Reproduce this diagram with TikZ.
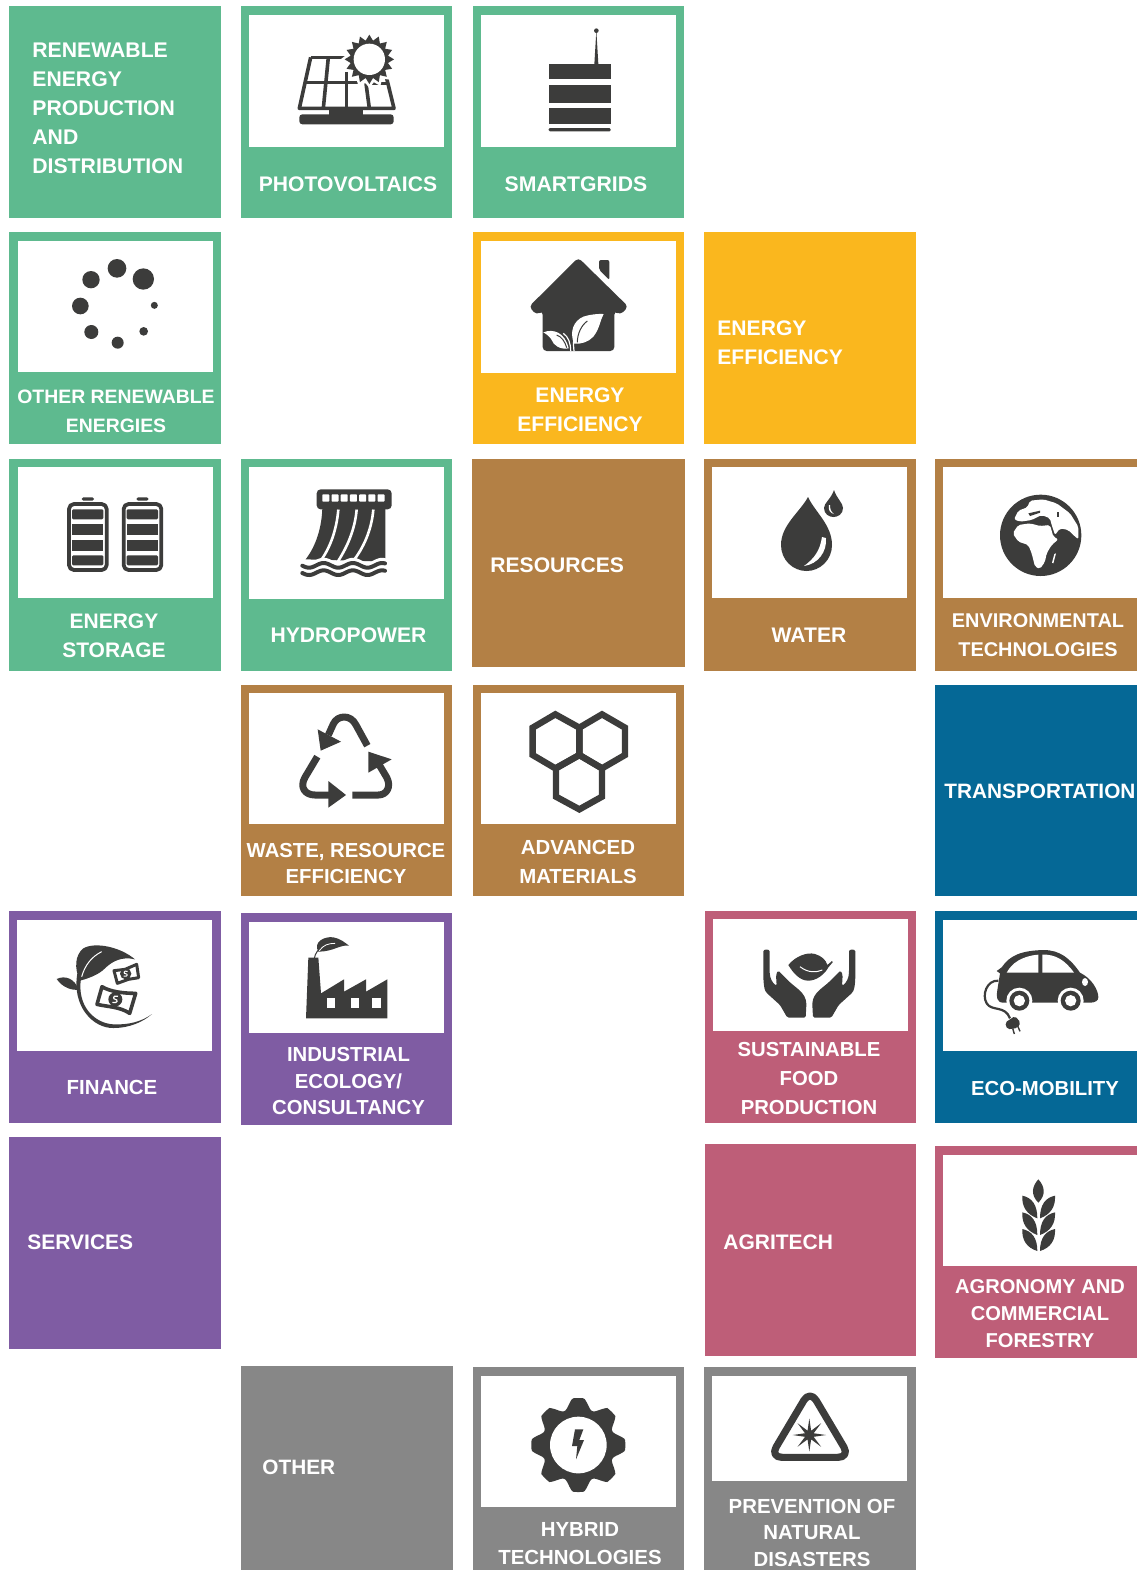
\documentclass[tikz,border=0pt]{standalone}
\usepackage{fontspec}
\setmainfont{Liberation Sans}
\definecolor{tgreen}{HTML}{5EBA8F}
\definecolor{tyellow}{HTML}{FAB71E}
\definecolor{tbrown}{HTML}{B38045}
\definecolor{tblue}{HTML}{056896}
\definecolor{tpurple}{HTML}{7F5CA3}
\definecolor{tpink}{HTML}{BE5E78}
\definecolor{tgray}{HTML}{878787}
\definecolor{idark}{HTML}{3C3C3B}
\tikzset{
  labc/.style 2 args={inner sep=0pt,text=white,align=center,font=\fontsize{#2pt}{#1pt}\selectfont\bfseries},
  labl/.style 2 args={inner sep=0pt,text=white,align=left,anchor=west,font=\fontsize{#2pt}{#1pt}\selectfont\bfseries},
  zc/.style 2 args={shift={(#1,#2)},x=0.166667pt,y=-0.166667pt},
  ik/.style={fill=idark},
  il/.style={draw=idark,line width=#1pt,line join=round},
  wf/.style={fill=white},
}
\newcommand\tile[5]{\fill[#1] (#2,#3) rectangle (#4,#5);}
\newcommand\panel[4]{\fill[white] (#1,#2) rectangle (#3,#4);}
\newcommand\burst[7]{\fill[#7] plot[samples at={0,...,#6},variable=\qq] ({#1+(mod(\qq,2)==0?#3:#4)*cos(\qq*360/#6+#5)},{#2+(mod(\qq,2)==0?#3:#4)*sin(\qq*360/#6+#5)}) -- cycle;}
\begin{document}
\begin{tikzpicture}[x=0.5pt,y=-0.5pt]
\useasboundingbox (0,0) rectangle (1137,1570);
\clip (0,0) rectangle (1137,1570);
% tiles
\tile{tgreen}{9}{6}{221}{218}
\tile{tgreen}{240.7}{6}{452.3}{218}\panel{249}{14.7}{444}{146.7}
\tile{tgreen}{472.5}{6}{684.3}{218}\panel{481}{14.7}{675.5}{146.7}
\tile{tgreen}{9}{232}{221}{444}\panel{18}{241}{213}{372}
\tile{tyellow}{472.5}{232}{684.3}{444}\panel{481}{241}{675.5}{373}
\tile{tyellow}{703.7}{232}{915.7}{444}
\tile{tgreen}{9}{459.3}{221}{671}\panel{18}{467}{213}{598.3}
\tile{tgreen}{240.7}{459.3}{452.3}{671}\panel{249}{467.3}{444}{599}
\tile{tbrown}{471.7}{458.7}{684.7}{667.3}
\tile{tbrown}{703.7}{459.3}{915.7}{671}\panel{712.3}{467}{907}{598.3}
\tile{tbrown}{934.5}{459.3}{1137}{671}\panel{943}{467}{1137}{598.3}
\tile{tbrown}{240.7}{684.7}{452.3}{896}\panel{249}{693}{444}{824.3}
\tile{tbrown}{472.5}{684.7}{684.3}{896}\panel{481}{693}{675.5}{824.3}
\tile{tblue}{934.5}{684.7}{1137}{896}
\tile{tpurple}{9}{911}{221}{1122.7}\panel{17.3}{920}{212}{1050.7}
\tile{tpurple}{240.7}{913}{452.3}{1125}\panel{249}{921.7}{444}{1032.7}
\tile{tpink}{704.5}{911}{916.3}{1122.7}\panel{713}{919.3}{908}{1030.7}
\tile{tblue}{934.7}{911}{1137}{1122.7}\panel{943}{920}{1137}{1051}
\tile{tpurple}{9}{1137}{221}{1349}
\tile{tpink}{704.5}{1144}{916.3}{1356}
\tile{tpink}{934.7}{1146}{1137}{1358}\panel{943}{1154.5}{1137}{1265.5}
\tile{tgray}{241}{1366}{452.7}{1570}
\tile{tgray}{472.5}{1367}{684.3}{1570}\panel{481}{1376}{676}{1507}
\tile{tgray}{704}{1367}{915.7}{1570}\panel{712.3}{1376}{907}{1481}
% labels
\node[labl={14.5}{10.6}] (lren) at (32,108) {RENEWABLE\\ENERGY\\PRODUCTION\\AND\\DISTRIBUTION};
\node[labc={14.5}{10.55}] (lpv) at (348,184) {PHOTOVOLTAICS};
\node[labc={14.5}{10.6}] (lsg) at (576,184) {SMARTGRIDS};
\node[labc={14.5}{9.7}] (lore) at (116,411) {OTHER RENEWABLE\\ENERGIES};
\node[labc={14.5}{10.55}] (lee) at (580,410) {ENERGY\\EFFICIENCY};
\node[labl={14.5}{10.55}] (leef) at (717,343) {ENERGY\\EFFICIENCY};
\node[labc={14.5}{10.5}] (lst) at (114,636) {ENERGY\\STORAGE};
\node[labc={14.5}{10.55}] (lhy) at (348.5,635) {HYDROPOWER};
\node[labl={14.5}{10.55}] (lres) at (490,565) {RESOURCES};
\node[labc={14.5}{10.55}] (lwa) at (809,635) {WATER};
\node[labc={14.5}{9.95}] (len) at (1038,635) {ENVIRONMENTAL\\TECHNOLOGIES};
\node[labc={13}{10.15}] (lwr) at (346,863) {WASTE, RESOURCE\\EFFICIENCY};
\node[labc={14.5}{10.2}] (lam) at (578,862) {ADVANCED\\MATERIALS};
\node[labl={14.5}{10.4}] (ltr) at (944,791) {TRANSPORTATION};
\node[labc={14.5}{10.2}] (lfi) at (112,1087) {FINANCE};
\node[labc={13.25}{10.15}] (lin) at (348.5,1081) {INDUSTRIAL\\ECOLOGY/\\CONSULTANCY};
\node[labc={14.5}{10.15}] (lsu) at (809,1078) {SUSTAINABLE\\FOOD\\PRODUCTION};
\node[labc={14.5}{10.15}] (lec) at (1045,1088) {ECO-MOBILITY};
\node[labl={14.5}{10.5}] (lse) at (27,1242) {SERVICES};
\node[labl={14.5}{10.5}] (lag) at (723,1242) {AGRITECH};
\node[labc={13.5}{10.05}] (lac) at (1040,1314) {AGRONOMY AND\\COMMERCIAL\\FORESTRY};
\node[labl={14.5}{10.4}] (lot) at (262,1467) {OTHER};
\node[labc={14}{10.2}] (lhb) at (580,1544) {HYBRID\\TECHNOLOGIES};
\node[labc={13.25}{10.2}] (lpr) at (812,1532.5) {PREVENTION OF\\NATURAL\\DISASTERS};
% photovoltaics + smartgrids
\begin{scope}[zc={240}{0}]
 \draw[il=1.8] (212,172) -- (178,325) -- (462,325) -- (440,235);
 \draw[il=1.8] (212,172) -- (320,172);
 \draw[il=1.8] (265,172) -- (250,325);
 \draw[il=1.8] (320,215) -- (320,325);
 \draw[il=1.8] (378,250) -- (388,325);
 \draw[il=1.8] (195,247) -- (360,247);
 \draw[il=1.8] (385,250) -- (445,250);
 \burst{388}{178}{86}{70}{0}{32}{white}
 \burst{388}{178}{74}{57}{0}{32}{idark}
 \fill[white] (388,178) circle (47);
 \fill[ik,rounded corners=1.5pt] (178,343) rectangle (461,373);
 \fill[ik] (268,325) rectangle (368,345);
 \fill[ik] (926,192) rectangle (1112,238);
 \fill[ik] (926,256) rectangle (1112,308);
 \fill[ik] (926,323) rectangle (1112,372);
 \fill[ik,rounded corners=0.6pt] (926,384) rectangle (1112,394);
 \fill[ik] (1063,192) -- (1069,92) -- (1075,192) -- cycle;
 \fill[ik] (1069,92) circle (7);
\end{scope}
% dots
\begin{scope}[zc={55}{250}]
 \fill[ik] (186,55) circle (28);
 \fill[ik] (265,87) circle (32);
 \fill[ik] (108,89) circle (26);
 \fill[ik] (76,168) circle (25);
 \fill[ik] (109,246) circle (21);
 \fill[ik] (188,278) circle (18);
 \fill[ik] (266,244) circle (13);
 \fill[ik] (298,166) circle (10.5);
\end{scope}
% house
\begin{scope}[zc={500}{245}]
 \fill[ik,rounded corners=2pt] (235,38) -- (385,185) -- (360,210) -- (343,197) -- (343,318) -- (128,318) -- (128,197) -- (110,210) -- (87,185) -- cycle;
 \fill[ik,rounded corners=1pt] (297,74) -- (297,45) -- (328,45) -- (328,105) -- cycle;
 \fill[wf] (222,296) .. controls (208,260) and (220,228) .. (250,215) .. controls (270,208) and (295,206) .. (311,207) .. controls (300,225) and (300,250) .. (280,275) .. controls (265,292) and (240,298) .. (222,296) -- cycle;
 \fill[wf] (130,262) .. controls (160,250) and (195,262) .. (206,310) .. controls (180,315) and (160,300) .. (155,285) .. controls (150,275) and (140,268) .. (130,262) -- cycle;
 \draw[white,line width=0.6pt] (212,318) .. controls (212,295) and (205,275) .. (190,265);
 \draw[white,line width=0.6pt] (222,318) .. controls (218,295) and (222,270) .. (230,255);
 \draw[idark,line width=0.5pt] (232,292) .. controls (232,265) and (245,240) .. (262,228);
 \draw[idark,line width=0.5pt] (170,270) .. controls (185,275) and (195,290) .. (200,308);
\end{scope}
% batteries
\begin{scope}[zc={50}{480}]
 \foreach \dx in {0,164}{
 \begin{scope}[xshift=\dx*0.166667pt]
 \draw[il=1.9,rounded corners=2.5pt] (57,72) rectangle (170,270);
 \fill[ik,rounded corners=0.8pt] (95,52) rectangle (132,62);
 \fill[ik,rounded corners=0.6pt] (66,88) rectangle (160,118);
 \fill[ik] (66,132) rectangle (160,165);
 \fill[ik] (66,180) rectangle (160,213);
 \fill[ik,rounded corners=0.6pt] (66,226) rectangle (160,256);
 \end{scope}}
\end{scope}
% hydro
\begin{scope}[zc={240}{460}]
 \fill[ik] (247,145) -- (436,145) -- (436,305) -- (197,298) .. controls (230,255) and (245,200) .. (247,145) -- cycle;
 \draw[white,line width=1.3pt] (295,148) .. controls (290,210) and (270,265) .. (240,305);
 \draw[white,line width=1.3pt] (350,148) .. controls (345,210) and (320,265) .. (290,310);
 \draw[white,line width=1.3pt] (400,148) .. controls (395,210) and (370,265) .. (338,305);
 \fill[ik,rounded corners=2pt] (230,88) rectangle (455,148);
 \foreach \k in {0,1,...,6}{\fill[wf,rounded corners=0.4pt] ({247+\k*27.6},103) rectangle ({268+\k*27.6},125);}
 \draw[white,line width=3.2pt] plot[domain=185:437,samples=60,variable=\qq] (\qq,{310+7*sin((\qq-185)*4.1)});
 \draw[il=2,line cap=round] plot[domain=187:435,samples=60,variable=\qq] (\qq,{316+7*sin((\qq-185)*4.1)});
 \draw[il=2,line cap=round] plot[domain=187:435,samples=60,variable=\qq] (\qq,{338+7*sin((\qq-185)*4.1)});
\end{scope}
% water
\fill[ik] (808,497) .. controls (800,512) and (781,525) .. (781,545) .. controls (781,560) and (793,571) .. (806.5,571) .. controls (820,571) and (832,560) .. (832,545) .. controls (832,525) and (815,512) .. (808,497) -- cycle;
\fill[wf] (826,538) .. controls (827,552) and (818,564) .. (804,566) .. controls (815,558) and (820,550) .. (822,537) -- cycle;
\fill[ik] (834,490) .. controls (831,499) and (824,503) .. (824,508) .. controls (824,514) and (829,517) .. (833.5,517) .. controls (838,517) and (843,514) .. (843,508) .. controls (843,503) and (837,499) .. (834,490) -- cycle;
\fill[wf] (829,505) .. controls (828,510) and (830,513) .. (834,514) .. controls (831,512) and (830,509) .. (830,505) -- cycle;
% globe
\begin{scope}[zc={940}{470}]
 \fill[ik] (302,196) circle (122);
 \fill[wf,rounded corners=1pt] (218,190) -- (235,165) -- (270,160) -- (300,168) -- (330,165) -- (340,200) -- (355,208) -- (335,225) -- (320,250) -- (315,275) -- (300,297) -- (285,290) -- (275,250) -- (265,225) -- (235,215) -- cycle;
 \fill[wf,rounded corners=1pt] (235,122) -- (262,112) -- (270,92) -- (310,88) -- (350,100) -- (390,130) -- (415,170) -- (415,208) -- (400,195) -- (385,180) -- (360,175) -- (345,195) -- (335,165) -- (330,145) -- (305,135) -- (275,150) -- (240,155) -- (222,148) -- cycle;
 \fill[ik] (350,125) rectangle (356,140);
 \fill[ik] (265,130) -- (300,122) -- (300,128) -- (270,138) -- cycle;
 \fill[wf] (348,250) -- (340,280) -- (336,278) -- (343,252) -- cycle;
\end{scope}
% recycle
\begin{scope}[zc={280}{700}]
 \draw[il=3.5] (262,137) -- (228,75) .. controls (212,42) and (172,45) .. (160,72) -- (145,105);
 \fill[ik] (113,88) -- (183,125) -- (122,152) -- cycle;
 \draw[il=3.5] (112,170) -- (75,232) .. controls (58,262) and (75,285) .. (105,285) -- (150,285);
 \fill[ik] (145,243) -- (198,285) -- (145,323) -- cycle;
 \draw[il=3.5] (217,285) -- (295,285) .. controls (320,285) and (335,260) .. (320,232) -- (295,190);
 \fill[ik] (265,155) -- (335,178) -- (265,218) -- cycle;
\end{scope}
% hexagons
\begin{scope}[zc={510}{700}]
 \draw[il=3.2,line join=miter] (136,43) -- (208,83) -- (208,165) -- (136,205) -- (68,165) -- (68,83) -- cycle;
 \draw[il=3.2,line join=miter] (276,43) -- (345,83) -- (345,165) -- (276,205) -- (208,165) -- (208,83) -- cycle;
 \draw[il=3.2,line join=miter] (208,165) -- (276,205) -- (276,290) -- (208,328) -- (138,290) -- (138,205) -- cycle;
\end{scope}
% finance + factory
\begin{scope}[zc={0}{910}]
 \fill[ik] (240,212) .. controls (222,175) and (225,135) .. (250,115) .. controls (285,95) and (360,110) .. (405,148) .. controls (365,138) and (335,155) .. (315,175) .. controls (295,195) and (265,205) .. (240,212) -- cycle;
 \draw[white,line width=0.5pt] (245,200) .. controls (255,165) and (275,140) .. (305,125);
 \fill[ik] (170,207) .. controls (195,195) and (225,205) .. (236,240) .. controls (215,240) and (190,235) .. (170,207) -- cycle;
 \fill[ik] (232,190) .. controls (215,290) and (280,355) .. (340,354) .. controls (390,354) and (430,335) .. (456,312) .. controls (425,335) and (385,345) .. (340,343) .. controls (285,340) and (230,290) .. (243,205) -- cycle;
 \draw[il=1.5,fill=white] (342,182) -- (375,178) -- (410,163) -- (416,203) -- (385,208) -- (352,220) -- cycle;
 \fill[ik] (377,191) circle (17);
 \draw[white,line width=0.5pt] (383,184) .. controls (370,180) and (370,192) .. (377,191) .. controls (384,191) and (384,202) .. (371,198);
 \draw[il=1.8,fill=white] (306,230) .. controls (330,245) and (370,250) .. (407,250) -- (389,310) .. controls (360,290) and (320,290) .. (291,283) -- cycle;
 \fill[ik] (346,268) circle (21);
 \draw[white,line width=0.6pt] (354,259) .. controls (338,254) and (338,268) .. (346,268) .. controls (354,268) and (354,282) .. (337,277);
 % factory
 \fill[ik] (925,143) -- (955,143) -- (963,250) -- (1032,208) -- (1032,245) -- (1098,208) -- (1098,245) -- (1162,208) -- (1162,325) -- (918,325) -- cycle;
 \fill[wf] (980,265) rectangle (1005,295);
 \fill[wf] (1053,265) rectangle (1078,295);
 \fill[wf] (1117,265) rectangle (1142,295);
 \fill[ik] (955,125) .. controls (938,95) and (975,78) .. (1000,82) .. controls (1020,85) and (1035,98) .. (1047,107) .. controls (1020,103) and (1000,125) .. (955,125) -- cycle;
 \draw[il=0.5] (943,145) .. controls (945,130) and (955,118) .. (968,108);
 \draw[white,line width=0.4pt] (958,122) .. controls (970,105) and (985,100) .. (1005,100);
\end{scope}
% hands + car
\begin{scope}[zc={700}{910}]
 \foreach \sx/\ox in {1/0,-1/656}{
 \begin{scope}[xshift=\ox*0.166667pt,xscale=\sx]
 \fill[ik,rounded corners=0.8pt] (190,128) .. controls (191,117) and (208,117) .. (209,128) -- (209,185) .. controls (210,205) and (217,218) .. (230,228) -- (228,195) -- (234,181) -- (265,212) .. controls (285,232) and (318,248) .. (319,285) -- (317,323) -- (262,323) -- (240,285) -- (198,247) .. controls (188,225) and (190,180) .. (190,128) -- cycle;
 \end{scope}}
 \fill[ik] (265,165) .. controls (285,140) and (320,125) .. (345,132) .. controls (365,138) and (378,150) .. (382,165) -- (396,153) -- (398,157) -- (385,172) .. controls (375,192) and (350,212) .. (325,212) .. controls (300,212) and (280,190) .. (265,165) -- cycle;
 \draw[white,line width=0.5pt] (300,170) .. controls (325,190) and (350,187) .. (367,180);
 % car
 \fill[ik] (890,183) -- (905,172) .. controls (930,135) and (965,122) .. (1030,120) .. controls (1080,120) and (1110,145) .. (1140,188) .. controls (1175,205) and (1195,240) .. (1195,262) .. controls (1195,272) and (1185,278) .. (1170,278) -- (910,278) .. controls (890,278) and (888,260) .. (892,240) -- (900,190) -- (890,183) -- cycle;
 \fill[wf] (920,188) .. controls (935,160) and (965,138) .. (1015,134) -- (1015,188) -- cycle;
 \fill[wf] (1027,134) .. controls (1065,132) and (1095,150) .. (1122,188) -- (1027,188) -- cycle;
 \fill[wf] (1155,216) ellipse (9 and 12);
 \foreach \wx in {958,1112}{
  \fill[white] (\wx,272) circle (39);
  \fill[ik] (\wx,272) circle (30);
  \fill[white] (\wx,272) circle (17);}
 \draw[il=1.1] (895,212) .. controls (860,210) and (845,255) .. (860,280) .. controls (875,305) and (915,285) .. (930,325);
 \fill[ik,rounded corners=1pt] (915,338) -- (945,318) -- (962,338) -- (952,354) -- (922,358) -- cycle;
 \draw[il=0.7] (938,355) -- (943,372);
 \draw[il=0.7] (953,348) -- (960,364);
\end{scope}
% wheat
\begin{scope}[zc={990}{1165}]
 \fill[ik] (145,43) .. controls (125,65) and (122,90) .. (145,113) .. controls (168,90) and (165,65) .. (145,43) -- cycle;
 \foreach \ox/\sx in {0/1,292/-1}{
 \begin{scope}[xshift=\ox*0.166667pt,xscale=\sx]
 \fill[ik] (97,92) .. controls (125,98) and (142,118) .. (142,160) .. controls (110,148) and (95,125) .. (97,92) -- cycle;
 \fill[ik] (97,142) .. controls (125,148) and (142,168) .. (142,210) .. controls (110,198) and (95,175) .. (97,142) -- cycle;
 \fill[ik] (97,192) .. controls (125,198) and (142,218) .. (142,258) .. controls (110,248) and (95,225) .. (97,192) -- cycle;
 \end{scope}}
\end{scope}
% gear + warning
\begin{scope}[zc={470}{1360}]
 \fill[ik] plot[samples at={0,2,...,358},variable=\qq] ({325+min(141,130+20*cos(8*\qq))*cos(\qq)},{255+min(141,130+20*cos(8*\qq))*sin(\qq)}) -- cycle;
 \fill[white] (325,255) circle (85);
 \fill[ik] (315,208) -- (340,208) -- (328,240) -- (342,240) -- (318,298) -- (322,258) -- (306,258) -- cycle;
 \draw[il=3.6,rounded corners=6pt] (1020,90) -- (1140,292) -- (900,292) -- cycle;
 \burst{1018}{225}{50}{14}{-90}{16}{idark}
\end{scope}
\end{tikzpicture}
\end{document}
